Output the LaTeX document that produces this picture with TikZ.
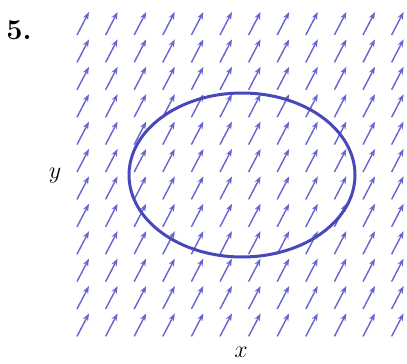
\documentclass[tikz,border=0pt]{standalone}
\usetikzlibrary{arrows.meta}
\definecolor{fieldblue}{RGB}{100,100,210}
\definecolor{curveblue}{RGB}{72,72,188}

\begin{document}
\begin{tikzpicture}[x=0.5pt, y=-0.5pt, font=\large]
    \useasboundingbox (0,0) rectangle (407,364);

    % Vector field
    \foreach \i in {0,...,11} {
        \foreach \j in {0,...,11} {
            \draw[-{Stealth[length=3.8pt,width=2.8pt]}, fieldblue, line width=0.7pt]
                ({77+28.6*\i},{35+27.4*\j}) -- ++(12,-23);
        }
    }

    % Curve
    \draw[curveblue, line width=1.5pt] (242,175) ellipse [x radius=113, y radius=82];

    % Labels
    \node (num) at (19,30) {\Large\bfseries 5.};
    \node (ylab) at (55,176) {$y$};
    \node (xlab) at (241,352) {$x$};
\end{tikzpicture}
\end{document}
